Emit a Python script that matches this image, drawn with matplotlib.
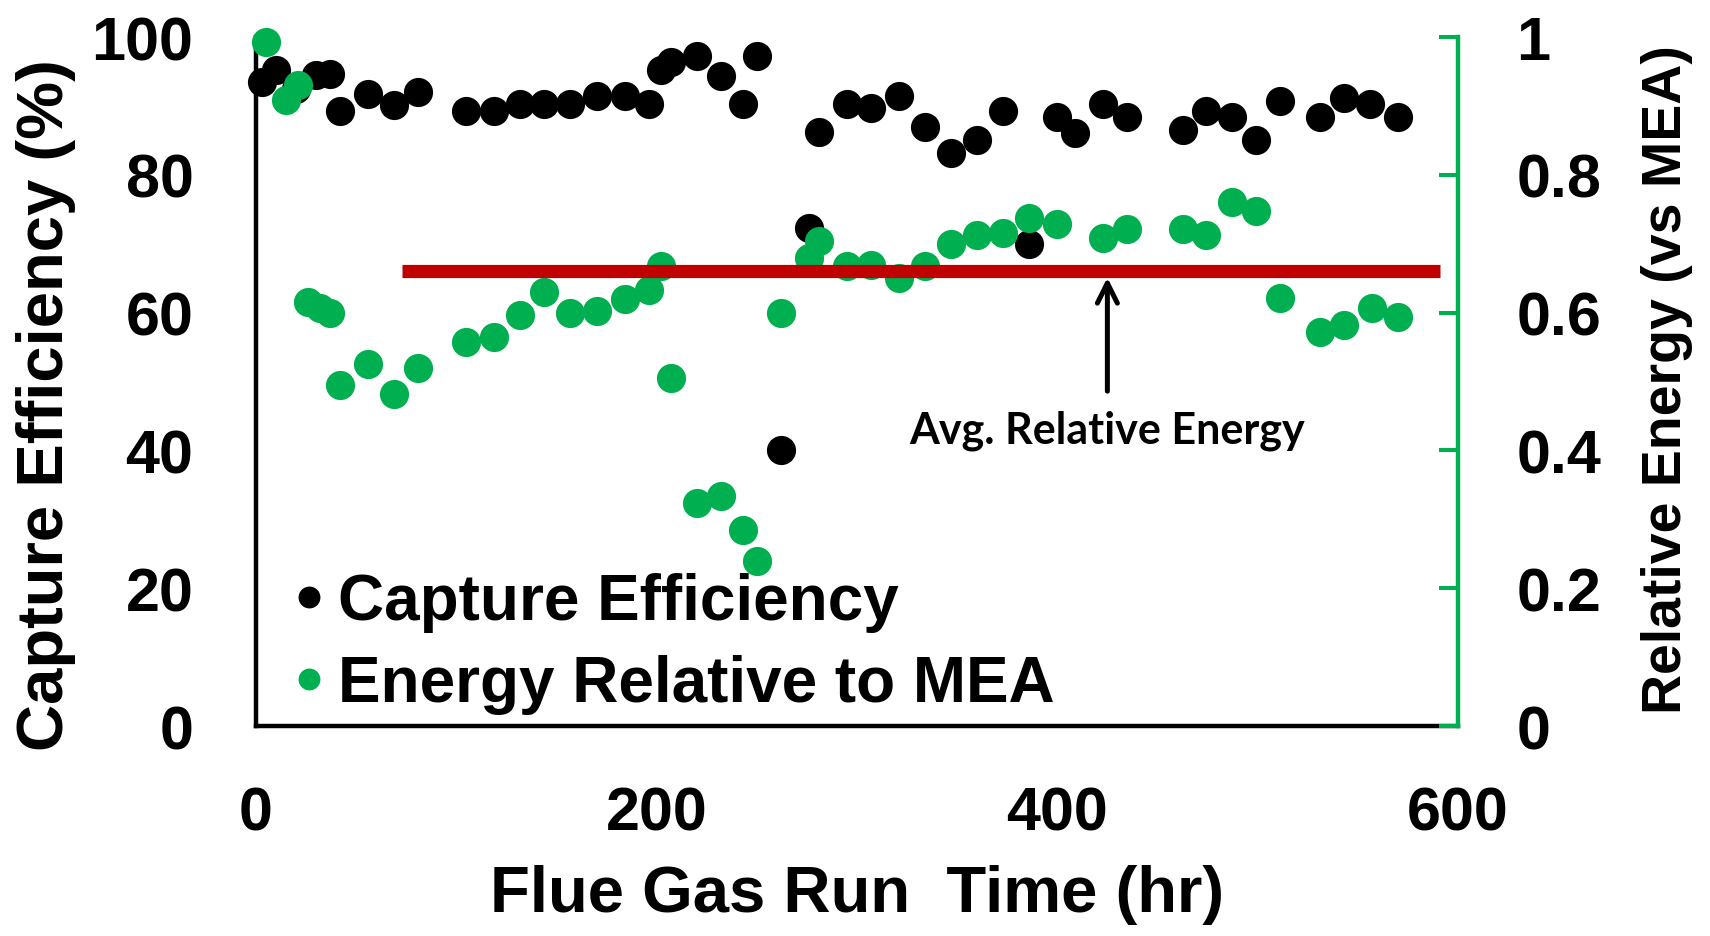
import matplotlib.pyplot as plt

# =====================================================
# DATA
# =====================================================
hours_ce = [3, 10, 20, 30, 37, 42, 56, 69, 81, 105, 119, 132, 144, 157, 170,
            184, 196, 202, 207, 220, 232, 243, 250, 262, 276, 281, 295, 307,
            321, 334, 347, 360, 373, 386, 400, 409, 423, 435, 463, 474, 487,
            499, 511, 531, 543, 556, 570]
capture_eff = [93.5, 95.2, 92.4, 94.5, 94.7, 89.3, 91.7, 90.2, 92.0, 89.3,
               89.3, 90.3, 90.3, 90.3, 91.4, 91.4, 90.3, 95.2, 96.4, 97.2,
               94.3, 90.3, 97.2, 40.0, 72.3, 86.2, 90.3, 89.7, 91.4, 87.0,
               83.1, 85.0, 89.3, 69.9, 88.4, 86.0, 90.3, 88.4, 86.5, 89.3,
               88.4, 85.0, 90.7, 88.4, 91.2, 90.3, 88.4]

hours_re = [5, 15, 21, 26, 32, 37, 42, 56, 69, 81, 105, 119, 132, 144, 157,
            170, 184, 196, 202, 207, 220, 232, 243, 250, 262, 276, 281, 295,
            307, 321, 334, 347, 360, 373, 386, 400, 423, 435, 463, 474, 487,
            499, 511, 531, 543, 557, 570]
rel_energy = [0.993, 0.908, 0.930, 0.616, 0.606, 0.600, 0.495, 0.525, 0.482,
              0.519, 0.557, 0.565, 0.597, 0.630, 0.600, 0.603, 0.620, 0.633,
              0.667, 0.505, 0.324, 0.334, 0.284, 0.239, 0.600, 0.679, 0.704,
              0.667, 0.669, 0.650, 0.667, 0.699, 0.712, 0.716, 0.738, 0.729,
              0.709, 0.722, 0.722, 0.712, 0.760, 0.748, 0.621, 0.572, 0.582,
              0.607, 0.594]

avg_energy = 0.661
avg_span = [73, 591]
arrow_hr = 425
arrow_from = 0.486
note_y = 0.43

x_ticks = [0, 200, 400, 600]
left_ticks = [0, 20, 40, 60, 80, 100]
right_ticks = [0, 0.2, 0.4, 0.6, 0.8, 1]
right_labels = ["0", "0.2", "0.4", "0.6", "0.8", "1"]

BLACK = "#000000"
GREEN = "#00B050"
RED = "#C00000"

plt.rcParams['font.family'] = ['Liberation Sans', 'DejaVu Sans']
plt.rcParams['font.weight'] = 'bold'
plt.rcParams['axes.labelweight'] = 'bold'

fig = plt.figure(figsize=(17.1, 9.37), dpi=100)
ax = fig.add_axes([0.1497, 0.2241, 0.7029, 0.7353])
ax2 = ax.twinx()

# --- series ---
ce_line, = ax.plot(hours_ce, capture_eff, 'o', color=BLACK, ms=21, mew=0,
                   clip_on=False, label="Capture Efficiency")
re_line, = ax2.plot(hours_re, rel_energy, 'o', color=GREEN, ms=21, mew=0,
                    clip_on=False, label="Energy Relative to MEA")

# --- average line + arrow ---
ax2.plot(avg_span, [avg_energy, avg_energy], color=RED, lw=9.5,
         solid_capstyle='butt', zorder=5)
ax2.annotate('', xy=(arrow_hr, avg_energy), xytext=(arrow_hr, arrow_from),
             arrowprops=dict(arrowstyle='->', lw=3.6, color=BLACK,
                             mutation_scale=36, shrinkA=0, shrinkB=5),
             zorder=6)
ax2.text(arrow_hr, note_y, "Avg. Relative Energy", ha='center', va='center',
         fontsize=31, fontweight='bold', family=['Lato', 'DejaVu Sans'])

# --- axes styling ---
ax.set_xlim(0, 600)
ax.set_ylim(0, 100)
ax2.set_ylim(0, 1)
ax.set_xticks(x_ticks)
ax.set_yticks(left_ticks)
ax2.set_yticks(right_ticks)
ax2.set_yticklabels(right_labels)

for s in ['top', 'right']:
    ax.spines[s].set_visible(False)
for s in ['top', 'left', 'bottom']:
    ax2.spines[s].set_visible(False)
ax.spines['left'].set_linewidth(3.2)
ax.spines['bottom'].set_linewidth(3.2)
ax2.spines['right'].set_linewidth(3.2)
ax2.spines['right'].set_color(GREEN)

ax.tick_params(axis='x', length=0, labelsize=44, pad=43)
ax.tick_params(axis='y', length=0, labelsize=44, pad=45)
ax2.tick_params(axis='y', direction='in', length=14, width=2.9, color=GREEN,
                labelcolor=BLACK, labelsize=44, pad=42)

ax.set_xlabel("Flue Gas Run  Time (hr)", fontsize=47)
ax.xaxis.set_label_coords(0.5, -0.20)
ax.set_ylabel("Capture Efficiency (%)", fontsize=47)
ax.yaxis.set_label_coords(-0.150, 0.467)
ax2.set_ylabel("Relative Energy (vs MEA)", fontsize=40)
ax2.yaxis.set_label_coords(1.152, 0.505)

# --- legend ---
ax2.legend([ce_line, re_line], [ce_line.get_label(), re_line.get_label()],
           loc='lower left', bbox_to_anchor=(0.028, 0.017), frameon=False,
           fontsize=46, markerscale=0.75, handlelength=0.6,
           handletextpad=0.15, labelspacing=0.35, borderpad=0,
           borderaxespad=0)

fig.savefig("out.png", dpi=100)
